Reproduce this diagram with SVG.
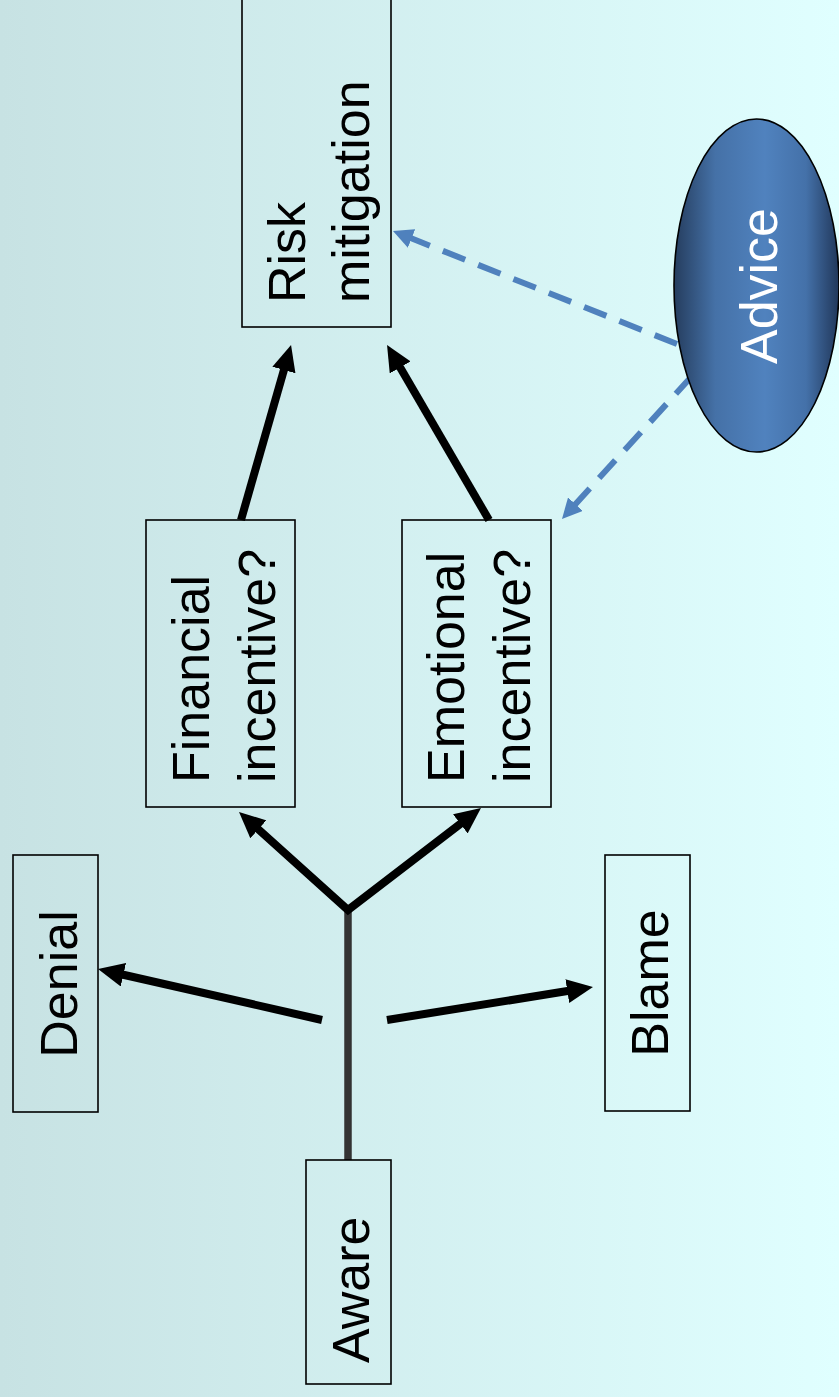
<svg xmlns="http://www.w3.org/2000/svg" width="839" height="1397" viewBox="0 0 839 1397">
<defs>
<linearGradient id="bg" x1="0" y1="0" x2="1" y2="0">
<stop offset="0" stop-color="#c7e2e3"/>
<stop offset="1" stop-color="#e0ffff"/>
</linearGradient>
<linearGradient id="adv" x1="0" y1="0" x2="1" y2="0">
<stop offset="0" stop-color="#253d5e"/>
<stop offset="0.25" stop-color="#4571a7"/>
<stop offset="0.55" stop-color="#5082be"/>
<stop offset="0.8" stop-color="#4471a9"/>
<stop offset="1" stop-color="#21375a"/>
</linearGradient>
<marker id="ah" markerUnits="userSpaceOnUse" markerWidth="26" markerHeight="24" refX="8" refY="12" orient="auto-start-reverse">
<path d="M0,0 L26,12 L0,24 z" fill="#000"/>
</marker>
<marker id="bh" markerUnits="userSpaceOnUse" markerWidth="20" markerHeight="20" refX="6" refY="10" orient="auto">
<path d="M0,0 L20,10 L0,20 z" fill="#4f81bd"/>
</marker>
<style>
.box{fill:none;stroke:#000;stroke-width:1.6}
.t{font-family:"Liberation Sans",Arial,sans-serif;font-size:52px;fill:#000}
.m{text-anchor:middle}
.sol{fill:none;stroke:#000;stroke-width:8;marker-end:url(#ah)}
.dash{fill:none;stroke:#4f81bd;stroke-width:6;stroke-dasharray:24 14;marker-end:url(#bh)}
</style>
</defs>
<rect x="0" y="0" width="839" height="1397" fill="url(#bg)"/>

<g id="connectors">
<line x1="348" y1="1160" x2="348" y2="908" stroke="#333" stroke-width="7.5"/>
<path d="M252.4,824 L348,910 L466.7,819" fill="none" stroke="#000" stroke-width="8" stroke-linejoin="miter" marker-start="url(#ah)" marker-end="url(#ah)"/>
<line class="sol" x1="322" y1="1020" x2="115.6" y2="973"/>
<line class="sol" x1="387" y1="1020" x2="575.2" y2="989.8"/>
<line class="sol" x1="241" y1="520" x2="286.1" y2="362.3"/>
<line class="sol" x1="489" y1="520" x2="396.1" y2="360.5"/>
<line class="dash" x1="677" y1="344" x2="406" y2="236.2"/>
<line class="dash" x1="692" y1="376" x2="571.4" y2="508.6"/>
</g>

<g id="risk">
<rect class="box" x="242" y="-5" width="149" height="332"/>
<text class="t" transform="translate(305,303) rotate(-90)">Risk</text>
<text class="t" transform="translate(369,303) rotate(-90)">mitigation</text>
</g>
<g id="financial">
<rect class="box" x="146" y="520" width="149" height="287"/>
<text class="t" transform="translate(209,783) rotate(-90)">Financial</text>
<text class="t" transform="translate(275,783) rotate(-90)">incentive?</text>
</g>
<g id="emotional">
<rect class="box" x="402" y="520" width="149" height="287"/>
<text class="t" transform="translate(464,783) rotate(-90)">Emotional</text>
<text class="t" transform="translate(530,783) rotate(-90)">incentive?</text>
</g>
<g id="denial">
<rect class="box" x="13" y="855" width="85" height="257"/>
<text class="t m" transform="translate(77,984) rotate(-90)">Denial</text>
</g>
<g id="blame">
<rect class="box" x="605" y="855" width="85" height="256"/>
<text class="t m" transform="translate(668,983) rotate(-90)">Blame</text>
</g>
<g id="aware">
<rect class="box" x="306" y="1160" width="85" height="224"/>
<text class="t" transform="translate(369,1363) rotate(-90)">Aware</text>
</g>
<g id="advice">
<ellipse cx="756.5" cy="285.5" rx="82.5" ry="166.5" fill="url(#adv)" stroke="#000" stroke-width="1.6"/>
<text class="t m" style="fill:#fff" transform="translate(777,286) rotate(-90)">Advice</text>
</g>
</svg>
